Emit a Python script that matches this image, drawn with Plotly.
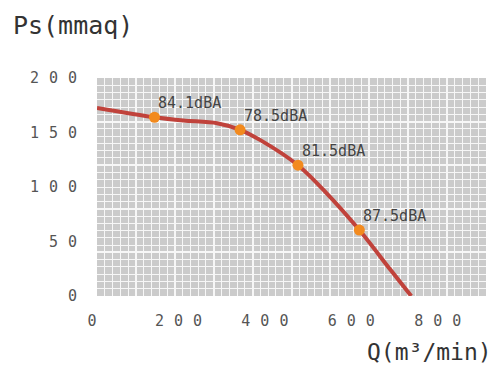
import plotly.graph_objects as go

# Curve (Q in m3/min, Ps in mmaq)
curve_q = [0, 133, 200, 278, 331, 378, 465, 532, 607, 679, 727]
curve_ps = [172.5, 164, 161, 158.5, 152.5, 143, 120, 94, 60.5, 24, 0]

# Noise measurement points
point_q = [133, 331, 465, 607]
point_ps = [164, 152.5, 120, 60.5]
point_labels = ["84.1dBA", "78.5dBA", "81.5dBA", "87.5dBA"]

x_tickvals = [0, 200, 400, 600, 800]
x_ticktext = ["0", "200", "400", "600", "800"]
y_tickvals = [0, 50, 100, 150, 200]
y_ticktext = ["0", "50", "100", "150", "200"]

MONO = "DejaVu Sans Mono"
XR = [0, 900]
YR = [0, 200]
GRID = "#f7f7f7"

fig = go.Figure()
# curve on the grid axes
fig.add_trace(go.Scatter(
    x=curve_q, y=curve_ps, mode="lines",
    line=dict(color="#c0423b", width=4, shape="spline", smoothing=0.9),
    hoverinfo="skip", showlegend=False))
# markers on the labelled overlay axes (same ranges), drawn above the curve
fig.add_trace(go.Scatter(
    x=point_q, y=point_ps, mode="markers", xaxis="x2", yaxis="y2",
    marker=dict(color="#f28a1e", size=11),
    showlegend=False))

for q, p, t in zip(point_q, point_ps, point_labels):
    fig.add_annotation(x=q, y=p, xref="x2", yref="y2", text=t, showarrow=False,
                       xanchor="left", yanchor="middle", xshift=2, yshift=14,
                       font=dict(family=MONO, size=15, color="#444444"))

fig.add_annotation(x=1.02, y=-0.257, xref="paper", yref="paper", text="Q(m³/min)",
                   showarrow=False, xanchor="right", yanchor="middle",
                   font=dict(family=MONO, size=23, color="#333333"))

fig.update_layout(
    width=497, height=365,
    margin=dict(l=97, r=11, t=78, b=69),
    paper_bgcolor="white", plot_bgcolor="#cbcbcb",
    title=dict(text="Ps(mmaq)", x=0.026, xanchor="left", y=0.93, yanchor="middle",
               xref="container", yref="container",
               font=dict(family=MONO, size=25, color="#333333")),
    xaxis=dict(range=XR, tick0=0, dtick=90, showgrid=True, gridcolor=GRID, gridwidth=2,
               minor=dict(tick0=0, dtick=18, showgrid=True, gridcolor=GRID, gridwidth=1),
               showticklabels=False, ticks="", zeroline=False, showline=False, fixedrange=True),
    yaxis=dict(range=YR, tick0=0, dtick=40, showgrid=True, gridcolor=GRID, gridwidth=2,
               minor=dict(tick0=0, dtick=40/6, showgrid=True, gridcolor=GRID, gridwidth=1),
               showticklabels=False, ticks="", zeroline=False, showline=False, fixedrange=True),
    xaxis2=dict(range=XR, overlaying="x", anchor="y2", side="bottom",
                tickmode="array", tickvals=x_tickvals, ticktext=x_ticktext,
                ticks="outside", ticklen=11, tickcolor="rgba(0,0,0,0)",
                showgrid=False, zeroline=False, showline=False, fixedrange=True,
                tickfont=dict(family=MONO, size=15, color="#555555")),
    yaxis2=dict(range=YR, overlaying="y", anchor="x2", side="left",
                tickmode="array", tickvals=y_tickvals, ticktext=y_ticktext,
                ticks="outside", ticklen=6, tickcolor="rgba(0,0,0,0)",
                showgrid=False, zeroline=False, showline=False, fixedrange=True,
                tickfont=dict(family=MONO, size=15, color="#555555")),
)

post = ("document.body.style.margin='0';"
        "var s=document.createElement('style');"
        "s.textContent='.x2tick text,.y2tick text{letter-spacing:10px}';"
        "document.head.appendChild(s);")
fig.write_html("out.html", post_script=post, config={"displayModeBar": False})
